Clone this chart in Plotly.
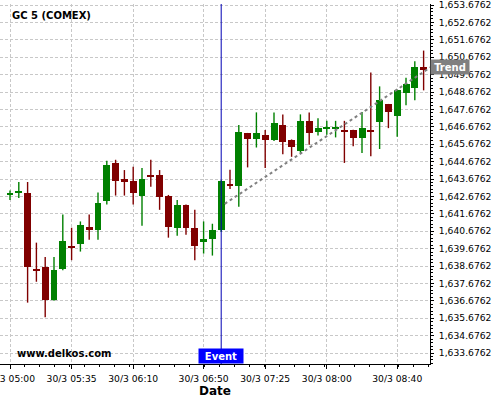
import plotly.graph_objects as go

DAY = "2015-03-30 "
times = ["05:00", "05:05", "05:10", "05:15", "05:20", "05:25", "05:30", "05:35",
         "05:40", "05:45", "05:50", "05:55", "06:00", "06:05", "06:10", "06:15",
         "06:20", "06:25", "06:30", "06:35", "06:40", "06:45", "06:50", "06:55",
         "07:00", "07:05", "07:10", "07:15", "07:20", "07:25", "07:30", "07:35",
         "07:40", "07:45", "07:50", "07:55", "08:00", "08:05", "08:10", "08:15",
         "08:20", "08:25", "08:30", "08:35", "08:40", "08:45", "08:50", "08:55"]
opens = [1642.743, 1642.900, 1642.895, 1638.530, 1638.609, 1636.724, 1638.495, 1639.810,
         1639.943, 1640.895, 1640.724, 1642.438, 1644.610, 1643.695, 1643.581, 1642.724,
         1643.924, 1643.924, 1642.724, 1640.838, 1642.210, 1640.838, 1640.057, 1640.210,
         1640.724, 1643.410, 1643.295, 1646.324, 1646.000, 1646.210, 1645.924, 1646.781,
         1645.924, 1645.295, 1647.010, 1646.352, 1646.600, 1646.600, 1646.505, 1646.505,
         1646.010, 1646.505, 1646.924, 1647.990, 1647.324, 1648.638, 1648.924, 1650.105]
highs = [1643.010, 1643.505, 1643.505, 1640.019, 1639.200, 1639.200, 1641.638, 1640.876,
         1641.238, 1641.638, 1642.895, 1644.724, 1644.781, 1644.190, 1644.381, 1644.305,
         1644.781, 1644.190, 1642.760, 1642.476, 1642.210, 1641.905, 1641.238, 1641.105,
         1643.600, 1644.210, 1646.781, 1646.324, 1647.505, 1646.495, 1647.505, 1647.390,
         1645.950, 1647.390, 1647.505, 1647.171, 1647.019, 1647.019, 1647.019, 1646.505,
         1647.533, 1649.800, 1649.000, 1647.990, 1648.800, 1649.495, 1650.448, 1651.057]
lows = [1642.476, 1642.590, 1636.571, 1637.771, 1635.733, 1636.686, 1638.438, 1639.010,
        1639.505, 1640.190, 1640.190, 1642.210, 1642.724, 1642.724, 1642.210, 1640.990,
        1643.238, 1641.905, 1640.305, 1640.419, 1640.476, 1639.010, 1639.390, 1639.276,
        1640.650, 1643.105, 1642.076, 1644.343, 1645.486, 1644.305, 1645.867, 1645.105,
        1644.952, 1645.181, 1645.638, 1646.181, 1646.219, 1646.067, 1644.600, 1645.552,
        1645.171, 1644.981, 1645.400, 1646.600, 1646.105, 1647.914, 1648.200, 1648.771]
closes = [1642.895, 1642.980, 1638.628, 1638.440, 1636.724, 1638.438, 1640.095, 1639.714,
          1641.010, 1640.724, 1642.324, 1644.495, 1643.581, 1643.524, 1642.857, 1643.695,
          1643.829, 1642.629, 1640.895, 1642.210, 1640.838, 1639.810, 1640.210, 1640.724,
          1643.581, 1643.295, 1646.381, 1646.000, 1646.324, 1645.924, 1646.895, 1645.810,
          1645.524, 1647.010, 1646.324, 1646.600, 1646.680, 1646.680, 1646.352, 1646.010,
          1646.600, 1646.410, 1648.219, 1647.552, 1648.790, 1649.133, 1650.105, 1649.952]

tick_times = ["05:00", "05:35", "06:10", "06:50", "07:25", "08:00", "08:40"]
tick_labels = ["30/3 05:00", "30/3 05:35", "30/3 06:10", "30/3 06:50",
               "30/3 07:25", "30/3 08:00", "30/3 08:40"]
event_time = "07:00"
trend_times = ["07:02", "08:59"]
trend_values = [1642.25, 1650.10]
x_range = ["04:54:19", "08:58:38"]
y_range = [1633.044, 1653.734]

GREEN = "#008000"
RED = "#800000"
FONT = "DejaVu Sans"

xs = [DAY + t for t in times]
body_w = 238000  # ms
fig = go.Figure()

for up, col in [(True, GREEN), (False, RED)]:
    idx = [i for i in range(len(xs)) if (closes[i] >= opens[i]) == up]
    wx, wy = [], []
    for i in idx:
        wx += [xs[i], xs[i], None]
        wy += [lows[i], highs[i], None]
    fig.add_trace(go.Scatter(x=wx, y=wy, mode="lines",
                             line=dict(color=col, width=1.4),
                             hoverinfo="skip", showlegend=False))
    fig.add_trace(go.Bar(x=[xs[i] for i in idx],
                         base=[min(opens[i], closes[i]) for i in idx],
                         y=[abs(closes[i] - opens[i]) for i in idx],
                         width=body_w, marker=dict(color=col, line=dict(width=0)),
                         hoverinfo="skip", showlegend=False))

fig.add_trace(go.Scatter(x=[DAY + t for t in trend_times], y=trend_values,
                         mode="lines", line=dict(color="#808080", width=2, dash="dot"),
                         hoverinfo="skip", showlegend=False))

fig.add_shape(type="line", xref="x", yref="paper",
              x0=DAY + event_time, x1=DAY + event_time, y0=0, y1=1,
              line=dict(color="#0000b4", width=1), layer="above")

fig.add_annotation(xref="x", yref="paper", x=DAY + event_time, y=0,
                   yanchor="bottom", xanchor="center", text="<b>Event</b>",
                   showarrow=False, bgcolor="#0000ff", width=44, height=14,
                   borderpad=0, font=dict(family=FONT, size=10, color="white"))
fig.add_annotation(xref="paper", yref="y", x=1, y=trend_values[-1],
                   xanchor="left", yanchor="middle", text="<b>Trend</b>",
                   showarrow=False, bgcolor="#808080", width=38, height=14,
                   borderpad=0, font=dict(family=FONT, size=10, color="white"))
fig.add_annotation(xref="paper", yref="paper", x=10 / 430, y=(364 - 16) / 360,
                   xanchor="left", yanchor="middle", text="<b>GC 5 (COMEX)</b>",
                   showarrow=False, font=dict(family=FONT, size=10, color="black"))
fig.add_annotation(xref="paper", yref="paper", x=15 / 430, y=(364 - 353.5) / 360,
                   xanchor="left", yanchor="middle", text="<b>www.delkos.com</b>",
                   showarrow=False, font=dict(family=FONT, size=10, color="black"))

fig.update_layout(
    width=500, height=400,
    margin=dict(l=0, r=70, t=4, b=36, autoexpand=False),
    paper_bgcolor="white", plot_bgcolor="white",
    barmode="overlay", bargap=0,
    separators=".,",
    font=dict(family=FONT, color="black"),
    showlegend=False,
    xaxis=dict(
        type="date",
        automargin=False,
        range=[DAY + x_range[0], DAY + x_range[1]],
        tickmode="array",
        tickvals=[DAY + t for t in tick_times],
        ticktext=tick_labels,
        ticklabeloverflow="allow",
        ticklabelstandoff=2,
        tickfont=dict(family=FONT, size=9.2, color="black"),
        showgrid=True, gridcolor="#c8c8c8", griddash="3px,2px", gridwidth=1,
        showline=True, linecolor="black", linewidth=1,
        ticks="outside", ticklen=4, tickcolor="black",
        minor=dict(ticks="outside", ticklen=2, tickcolor="black",
                   dtick=510000, tick0=DAY + "05:00", showgrid=False),
        zeroline=False,
        title=dict(text="<b>Date</b>", font=dict(family=FONT, size=12, color="black"),
                   standoff=3),
        fixedrange=True,
    ),
    yaxis=dict(
        side="right",
        automargin=False,
        range=y_range,
        tick0=1633.6762, dtick=1,
        tickformat=",.4f",
        ticklabeloverflow="allow",
        ticklabelstandoff=3,
        tickfont=dict(family=FONT, size=9.2, color="black"),
        showgrid=True, gridcolor="#c8c8c8", griddash="3px,2px", gridwidth=1,
        showline=True, linecolor="black", linewidth=1,
        ticks="outside", ticklen=3, tickcolor="black",
        minor=dict(ticks="outside", ticklen=2, tickcolor="black",
                   dtick=0.2, tick0=1633.6762, showgrid=False),
        zeroline=False,
        fixedrange=True,
    ),
)

fig.write_html("out.html", config={"displayModeBar": False},
               post_script="document.body.style.margin='0';")
